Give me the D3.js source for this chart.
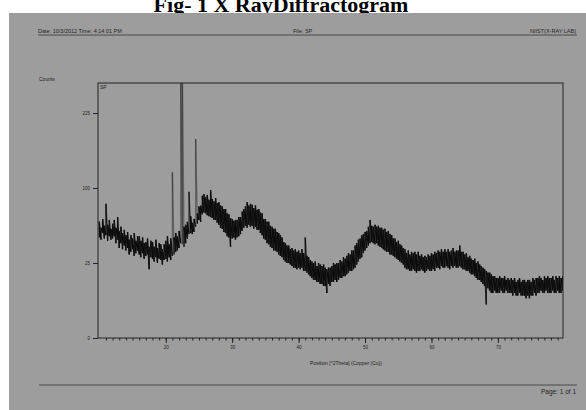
<!DOCTYPE html>
<html>
<head>
<meta charset="utf-8">
<script src="https://cdn.jsdelivr.net/npm/d3@7"></script>
<style>
  body { margin: 0; background: #fff; }
  svg { display: block; }
  text { font-family: "Liberation Sans", Arial, sans-serif; fill: #222; }
</style>
</head>
<body>
<div id="chart"></div>
<script>
// scan bins (degrees 2Theta): 10.00, 10.25, ... 79.75
var firstAngle = 10;
var angleStep = 0.25;

// highest counts seen in each bin (8 bins = 2 degrees per row)
var countsHigh = [
  60, 54, 63, 56, 80, 57, 62, 53,
  58, 62, 54, 65, 51, 55, 49, 52,
  47, 50, 43, 47, 44, 49, 42, 46,
  46, 42, 45, 40, 41, 44, 37, 42,
  41, 37, 43, 36, 40, 39, 35, 39,
  42, 46, 39, 44, 122, 45, 49, 46,
  51, 330, 320, 55, 57, 60, 95, 66,
  59, 63, 176, 69, 77, 78, 90, 92,
  88, 91, 85, 97, 86, 83, 87, 81,
  82, 78, 77, 74, 74, 69, 68, 64,
  63, 61, 62, 62, 65, 65, 71, 74,
  77, 82, 78, 80, 79, 75, 78, 73,
  74, 70, 69, 63, 63, 60, 60, 56,
  55, 53, 53, 50, 49, 47, 45, 41,
  40, 38, 38, 35, 36, 34, 35, 33,
  34, 32, 35, 32, 45, 30, 29, 27,
  26, 25, 26, 23, 25, 24, 23, 24,
  22, 21, 22, 22, 23, 25, 24, 25,
  25, 27, 26, 29, 28, 30, 32, 31,
  34, 34, 38, 40, 43, 44, 47, 48,
  50, 51, 55, 62, 56, 55, 57, 55,
  56, 54, 54, 52, 53, 50, 51, 48,
  47, 44, 44, 41, 42, 39, 38, 36,
  35, 32, 34, 31, 33, 32, 33, 31,
  33, 30, 31, 29, 30, 29, 31, 30,
  32, 31, 33, 32, 34, 33, 35, 33,
  35, 33, 35, 33, 34, 36, 33, 34,
  34, 38, 33, 33, 31, 32, 29, 30,
  28, 27, 28, 25, 26, 24, 23, 22,
  21, 20, 19, 19, 18, 17, 17, 16,
  16, 17, 16, 16, 17, 15, 16, 15,
  16, 15, 16, 14, 15, 16, 14, 15,
  15, 14, 15, 15, 14, 16, 15, 16,
  16, 17, 16, 15, 17, 16, 17, 16,
  16, 17, 15, 17, 16, 17, 16, 17
];

// lowest counts seen in each bin
var countsLow = [
  45, 43, 49, 44, 47, 42, 46, 43,
  44, 46, 40, 43, 36, 40, 35, 38,
  34, 36, 31, 33, 35, 30, 32, 34,
  31, 29, 32, 28, 30, 31, 21, 29,
  28, 26, 29, 25, 28, 27, 24, 27,
  28, 26, 29, 27, 30, 31, 33, 34,
  36, 40, 39, 37, 40, 44, 48, 49,
  48, 50, 55, 58, 62, 60, 68, 70,
  69, 67, 66, 65, 64, 62, 62, 59,
  57, 54, 53, 50, 49, 46, 45, 37,
  44, 45, 43, 45, 46, 48, 51, 54,
  56, 54, 57, 55, 56, 53, 55, 52,
  52, 49, 47, 44, 43, 40, 39, 37,
  36, 34, 34, 33, 31, 30, 29, 27,
  26, 25, 25, 24, 23, 22, 22, 21,
  22, 21, 22, 20, 20, 19, 18, 17,
  16, 15, 15, 14, 14, 13, 13, 12,
  12, 9, 13, 12, 14, 14, 15, 14,
  15, 16, 16, 17, 17, 18, 19, 20,
  20, 21, 22, 24, 26, 28, 29, 32,
  34, 36, 38, 40, 41, 40, 39, 40,
  38, 37, 36, 35, 34, 33, 33, 31,
  31, 30, 29, 28, 27, 26, 25, 24,
  22, 21, 21, 20, 20, 21, 20, 19,
  20, 20, 21, 20, 19, 20, 21, 20,
  20, 21, 20, 22, 22, 21, 23, 22,
  22, 23, 22, 21, 23, 22, 23, 22,
  22, 23, 22, 21, 21, 20, 20, 19,
  18, 18, 17, 16, 15, 15, 14, 13,
  12, 5, 11, 10, 9, 9, 10, 9,
  9, 9, 10, 9, 9, 10, 9, 9,
  9, 8, 9, 8, 8, 9, 8, 8,
  8, 7, 8, 7, 8, 8, 9, 8,
  9, 9, 10, 9, 9, 10, 9, 9,
  9, 10, 9, 9, 10, 9, 9, 10
];

var yTicks = [0, 25, 100, 225];
var xTicks = [20, 30, 40, 50, 60, 70];

var svgWidth = 586;
var svgHeight = 410;
var plot = { left: 98, right: 563, top: 83, bottom: 338 };

var svg = d3.select("#chart")
  .append("svg")
  .attr("width", svgWidth)
  .attr("height", svgHeight);

// title (its top is cut off in the scan)
svg.append("text")
  .attr("x", 281)
  .attr("y", 12)
  .attr("text-anchor", "middle")
  .style("font-family", "'Liberation Serif', 'Times New Roman', serif")
  .style("font-weight", "bold")
  .style("font-size", "22px")
  .style("fill", "#000")
  .text("Fig- 1 X RayDiffractogram");

// grey scanned page
svg.append("rect")
  .attr("x", 9)
  .attr("y", 13)
  .attr("width", svgWidth - 9)
  .attr("height", svgHeight - 13)
  .attr("fill", "#9d9d9d");

// page header
svg.append("text").attr("x", 38).attr("y", 33).style("font-size", "5.5px").text("Date: 10/3/2012 Time: 4:14:01 PM");
svg.append("text").attr("x", 293).attr("y", 33).style("font-size", "5.5px").text("File: SP");
svg.append("text").attr("x", 576).attr("y", 33).attr("text-anchor", "end").style("font-size", "5.5px").text("NIIST(X-RAY LAB)");
svg.append("line")
  .attr("x1", 38).attr("x2", 577).attr("y1", 35).attr("y2", 35)
  .attr("stroke", "#333").attr("stroke-width", 0.8);

// scales
var x = d3.scaleLinear()
  .domain([9.8, 79.8])
  .range([plot.left, plot.right]);

var y = d3.scaleSqrt()
  .domain([0, 289])
  .range([plot.bottom, plot.top]);

// trace: each bin drawn from its low up to its high count, then on to the next bin
var points = [];
countsHigh.forEach(function(hi, i) {
  var angle = firstAngle + i * angleStep;
  points.push([angle, countsLow[i]], [angle, hi]);
});

var segments = d3.pairs(points);

svg.append("clipPath").attr("id", "plotClip")
  .append("rect")
  .attr("x", plot.left).attr("y", plot.top)
  .attr("width", plot.right - plot.left).attr("height", plot.bottom - plot.top);

// long thin strokes come out paler on the scanned printout
svg.append("g")
  .attr("clip-path", "url(#plotClip)")
  .selectAll("line")
  .data(segments)
  .enter()
  .append("line")
  .attr("x1", function(d) { return x(d[0][0]); })
  .attr("y1", function(d) { return y(d[0][1]); })
  .attr("x2", function(d) { return x(d[1][0]); })
  .attr("y2", function(d) { return y(d[1][1]); })
  .attr("stroke", "#0d0d0d")
  .attr("stroke-width", 1.3)
  .attr("stroke-opacity", function(d) {
    var len = Math.abs(y(d[0][1]) - y(d[1][1]));
    return Math.max(0.4, Math.min(1, 30 / len));
  });

// frame
svg.append("rect")
  .attr("x", plot.left).attr("y", plot.top)
  .attr("width", plot.right - plot.left).attr("height", plot.bottom - plot.top)
  .attr("fill", "none")
  .attr("stroke", "#222")
  .attr("stroke-width", 1);

// y axis
var yAxis = d3.axisLeft(y)
  .tickValues(yTicks)
  .tickSize(5)
  .tickPadding(3);

var yG = svg.append("g")
  .attr("transform", "translate(" + plot.left + ",0)")
  .call(yAxis);
yG.select(".domain").remove();
yG.selectAll("line").attr("stroke", "#222");
yG.selectAll("text").style("font-size", "4.5px").attr("fill", "#222");

// x axis: minor ticks every degree, labelled every 10
var xMinor = d3.axisBottom(x)
  .tickValues(d3.range(11, 80, 1))
  .tickSize(2.5)
  .tickFormat("");

var xMinorG = svg.append("g")
  .attr("transform", "translate(0," + plot.bottom + ")")
  .call(xMinor);
xMinorG.select(".domain").remove();
xMinorG.selectAll("line").attr("stroke", "#222");

var xAxis = d3.axisBottom(x)
  .tickValues(xTicks)
  .tickSize(5)
  .tickPadding(3);

var xG = svg.append("g")
  .attr("transform", "translate(0," + plot.bottom + ")")
  .call(xAxis);
xG.select(".domain").remove();
xG.selectAll("line").attr("stroke", "#222");
xG.selectAll("text").style("font-size", "4.5px").attr("fill", "#222");

// labels
svg.append("text").attr("x", 39).attr("y", 81).style("font-size", "5px").text("Counts");
svg.append("text").attr("x", 100).attr("y", 89).style("font-size", "5px").text("SP");
svg.append("text")
  .attr("x", 346).attr("y", 365)
  .attr("text-anchor", "middle")
  .style("font-size", "5px")
  .text("Position [°2Theta] (Copper (Cu))");

// page footer
svg.append("line")
  .attr("x1", 39).attr("x2", 577).attr("y1", 385).attr("y2", 385)
  .attr("stroke", "#333").attr("stroke-width", 0.8);
svg.append("text")
  .attr("x", 576).attr("y", 394)
  .attr("text-anchor", "end")
  .style("font-size", "6.5px")
  .text("Page: 1 of 1");
</script>
</body>
</html>
